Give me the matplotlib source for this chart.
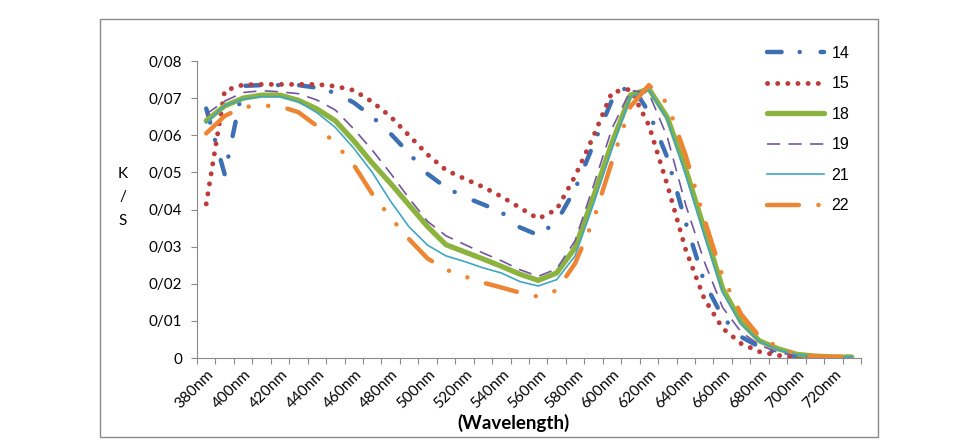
import matplotlib
matplotlib.use('Agg')
import matplotlib.pyplot as plt
from matplotlib.patches import Rectangle
from matplotlib.ticker import FuncFormatter
from matplotlib.transforms import ScaledTranslation

plt.rcParams['lines.scale_dashes'] = False

# wavelength categories (nm)
wavelengths = [380, 390, 400, 410, 420, 430, 440, 450, 460, 470, 480, 490,
               500, 510, 520, 530, 540, 550, 560, 570, 580, 590, 600, 610,
               620, 630, 640, 650, 660, 670, 680, 690, 700, 710, 720, 730]

# K/S values per sample
s14 = [0.0672, 0.0495, 0.0733, 0.0735, 0.0735, 0.0735, 0.0728, 0.0714, 0.0688, 0.0650, 0.0604, 0.0551,
       0.0496, 0.0459, 0.0434, 0.0414, 0.0393, 0.0352, 0.0331, 0.0367, 0.0455, 0.0576, 0.0695, 0.0739,
       0.0662, 0.0540, 0.0364, 0.0205, 0.0110, 0.0057, 0.0030, 0.0012, 0.0005, 0.0003, 0.0003, 0.0003]
s15 = [0.0415, 0.0720, 0.0736, 0.0737, 0.0737, 0.0737, 0.0737, 0.0732, 0.0721, 0.0690, 0.0650, 0.0599,
       0.0548, 0.0506, 0.0483, 0.0461, 0.0435, 0.0405, 0.0375, 0.0400, 0.0490, 0.0598, 0.0716, 0.0724,
       0.0627, 0.0466, 0.0291, 0.0160, 0.0080, 0.0039, 0.0017, 0.0007, 0.0002, 0.0001, 0.0001, 0.0001]
s18 = [0.0639, 0.0679, 0.0700, 0.0708, 0.0708, 0.0694, 0.0671, 0.0639, 0.0585, 0.0525, 0.0470, 0.0412,
       0.0354, 0.0305, 0.0286, 0.0267, 0.0247, 0.0226, 0.0209, 0.0229, 0.0297, 0.0435, 0.0580, 0.0708,
       0.0725, 0.0648, 0.0508, 0.0348, 0.0187, 0.0097, 0.0046, 0.0025, 0.0010, 0.0005, 0.0003, 0.0002]
s19 = [0.0657, 0.0692, 0.0715, 0.0720, 0.0717, 0.0712, 0.0695, 0.0668, 0.0617, 0.0560, 0.0497, 0.0430,
       0.0368, 0.0329, 0.0306, 0.0283, 0.0262, 0.0238, 0.0220, 0.0240, 0.0316, 0.0465, 0.0618, 0.0721,
       0.0713, 0.0595, 0.0412, 0.0260, 0.0136, 0.0070, 0.0035, 0.0015, 0.0006, 0.0003, 0.0002, 0.0002]
s21 = [0.0633, 0.0680, 0.0697, 0.0704, 0.0704, 0.0690, 0.0661, 0.0621, 0.0565, 0.0500, 0.0422, 0.0353,
       0.0304, 0.0275, 0.0260, 0.0243, 0.0229, 0.0206, 0.0194, 0.0211, 0.0275, 0.0415, 0.0563, 0.0704,
       0.0722, 0.0642, 0.0492, 0.0330, 0.0176, 0.0091, 0.0044, 0.0022, 0.0009, 0.0004, 0.0003, 0.0002]
s22 = [0.0605, 0.0652, 0.0676, 0.0680, 0.0678, 0.0662, 0.0625, 0.0578, 0.0520, 0.0442, 0.0378, 0.0320,
       0.0268, 0.0238, 0.0220, 0.0203, 0.0190, 0.0176, 0.0165, 0.0182, 0.0255, 0.0372, 0.0530, 0.0677,
       0.0735, 0.0686, 0.0545, 0.0375, 0.0219, 0.0118, 0.0057, 0.0030, 0.0010, 0.0004, 0.0003, 0.0003]

fig = plt.figure(figsize=(9.69, 4.47), dpi=100)

# chart area border
fig.patches.append(Rectangle((100 / 969, 10 / 447), 778 / 969, 418 / 447,
                             transform=fig.transFigure, fill=False,
                             edgecolor='#8a8a8a', linewidth=1.0))

ax = fig.add_axes([197 / 969, 89 / 447, 664 / 969, 297 / 447])
x = list(range(len(wavelengths)))

ax.plot(x, s14, color='#3d6fb3', lw=3.2, dashes=(10.5, 13, 0.1, 15),
        dash_capstyle='round', solid_capstyle='round', label='14')
ax.plot(x, s15, color='#be3b3b', lw=3.5, dashes=(0.1, 7.2),
        dash_capstyle='round', label='15')
ax.plot(x, s18, color='#8db33f', lw=3.8, solid_capstyle='round', label='18')
ax.plot(x, s19, color='#7256a0', lw=1.2, dashes=(9.5, 6), label='19')
ax.plot(x, s21, color='#3fa6c4', lw=1.2, label='21')
ax.plot(x, s22, color='#ee8533', lw=3.2, dashes=(23, 14, 0.1, 14, 0.1, 14),
        dash_capstyle='round', label='22')

ax.set_xlim(-0.5, len(wavelengths) - 0.5)
ax.set_ylim(0, 0.08)
ax.set_yticks([0, 0.01, 0.02, 0.03, 0.04, 0.05, 0.06, 0.07, 0.08])
ax.yaxis.set_major_formatter(FuncFormatter(
    lambda v, p: '0' if abs(v) < 1e-9 else ('%.2f' % v).replace('.', '/')))

# category boundary ticks
ax.set_xticks([i - 0.5 for i in range(len(wavelengths) + 1)])
ax.set_xticklabels([])
ax.set_xticks(x[::2], ['%dnm' % w for w in wavelengths[::2]], minor=True)
ax.tick_params(axis='x', which='minor', length=0, pad=10)
ax.tick_params(axis='both', which='major', length=4.5, width=0.8,
               color='#8a8a8a', direction='out')
ax.tick_params(axis='y', pad=6, labelsize=11)

for lbl in ax.get_xticklabels(minor=True):
    lbl.set_rotation(45)
    lbl.set_ha('right')
    lbl.set_va('center')
    lbl.set_rotation_mode('anchor')
    lbl.set_fontsize(11)
    lbl.set_fontfamily('Lato')
    lbl.set_transform(lbl.get_transform() + ScaledTranslation(4 / 72, 0, fig.dpi_scale_trans))
for lbl in ax.get_yticklabels():
    lbl.set_fontfamily('Lato')

for s in ['top', 'right']:
    ax.spines[s].set_visible(False)
for s in ['left', 'bottom']:
    ax.spines[s].set_color('#8a8a8a')
    ax.spines[s].set_linewidth(0.8)

ax.legend(loc='upper left', bbox_to_anchor=(767 / 969, 1 - 46 / 447),
          bbox_transform=fig.transFigure, frameon=False, borderpad=0,
          borderaxespad=0, handlelength=3.55, handletextpad=0.5,
          labelspacing=0.97, prop={'family': 'Liberation Sans', 'size': 11.5})

# axis titles
fig.text(513 / 969, 1 - 423 / 447, '(Wavelength)', ha='center', va='center',
         fontsize=13.5, fontweight='bold', family='Lato')
for ch, yy in zip(['K', '/', 'S'], [174, 197, 221]):
    fig.text(123 / 969, 1 - yy / 447, ch, ha='center', va='center',
             fontsize=11, family='Lato')

fig.savefig('out.png', dpi=100)
